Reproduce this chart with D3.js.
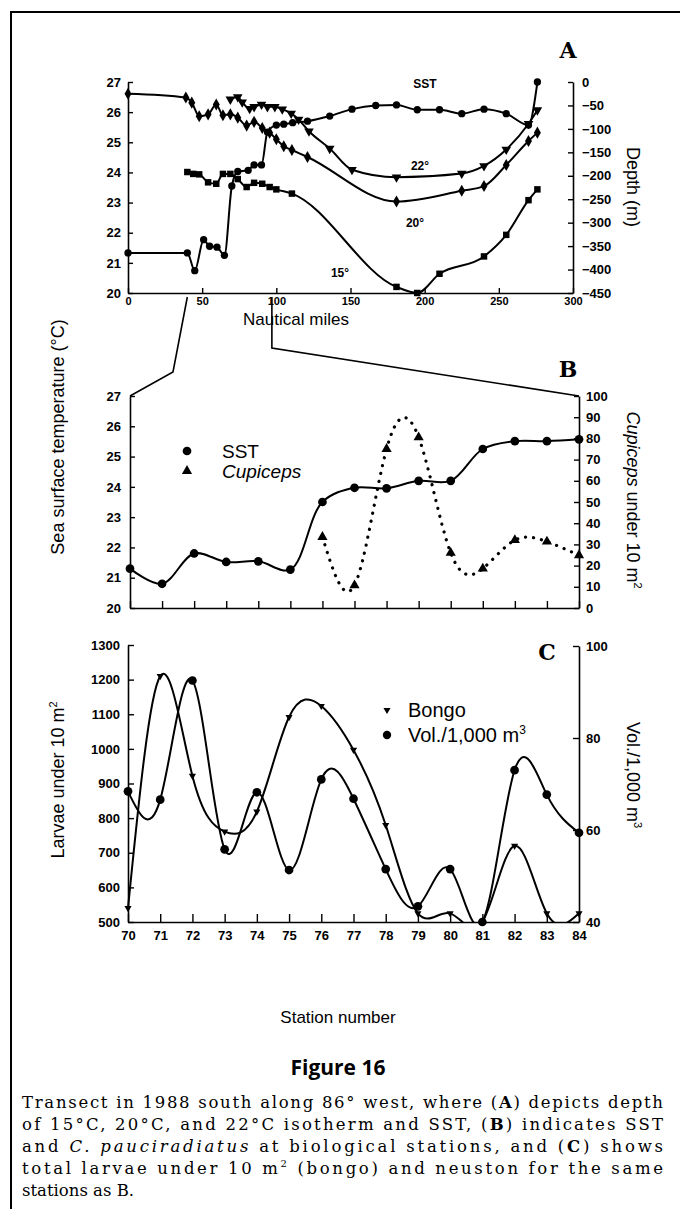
<!DOCTYPE html>
<html>
<head>
<meta charset="utf-8">
<script src="https://cdn.jsdelivr.net/npm/d3@7"></script>
<style>
body { margin: 0; background: #fff; }
</style>
</head>
<body>
<div id="container"></div>
<script>
"use strict";

// ---- panel A: transect, nautical miles ----
var sstNm = [0, 40, 45, 51, 55, 60, 65, 70, 74, 81, 85, 90, 94, 100, 105, 111, 121, 136, 151, 167, 181, 195, 210, 225, 240, 255, 270, 276];
var sstTemp = [21.33, 21.33, 20.74, 21.77, 21.55, 21.52, 21.25, 23.55, 24.03, 24.07, 24.25, 24.25, 25.34, 25.57, 25.6, 25.65, 25.7, 25.87, 26.1, 26.22, 26.24, 26.08, 26.08, 25.95, 26.1, 25.95, 25.57, 27.0];

var iso22Nm = [69, 74, 77, 82, 85, 90, 94, 99, 104, 110, 115, 122, 136, 151, 181, 225, 240, 255, 270, 276];
var iso22Depth = [-37, -32, -43, -57, -53, -48, -53, -53, -58, -67, -80, -105, -142, -187, -203, -195, -179, -144, -89, -60];

var iso20Nm = [0, 39, 43, 48, 54, 59.5, 64, 69, 74, 80, 85, 90.5, 95.5, 100, 105, 110.5, 121, 181, 225, 240, 255, 270, 276];
var iso20Depth = [-25, -33, -44, -73, -69, -48, -71, -69, -76, -93, -85, -98, -108, -122, -137, -145, -160, -255, -232, -222, -177, -126, -108];

var iso15Nm = [40, 44, 48, 54, 59.5, 64, 69, 74, 80, 85, 90.5, 95.5, 100, 110.5, 181, 195, 210, 240, 255, 270, 276];
var iso15Depth = [-192, -196, -197, -214, -217, -196, -196, -207, -224, -215, -217, -224, -229, -238, -437, -450, -409, -372, -326, -252, -229];

var nmTicks = [0, 50, 100, 150, 200, 250, 300];
var tempTicks = [20, 21, 22, 23, 24, 25, 26, 27];
var depthTicks = [0, -50, -100, -150, -200, -250, -300, -350, -400, -450];

// ---- panel B: biological stations ----
var stations = [70, 71, 72, 73, 74, 75, 76, 77, 78, 79, 80, 81, 82, 83, 84];
var sstB = [21.3, 20.8, 21.8, 21.52, 21.54, 21.27, 23.5, 23.97, 23.95, 24.2, 24.2, 25.25, 25.51, 25.51, 25.57];
var cupStations = [76, 77, 78, 79, 80, 81, 82, 83, 84];
var cupiceps = [33.5, 10.7, 75, 80.5, 26, 18.6, 32, 31.3, 24.9];
var cupTicks = [0, 10, 20, 30, 40, 50, 60, 70, 80, 90, 100];

// ---- panel C: larvae and volume ----
var bongo = [540, 1210, 922, 761, 819, 1092, 1124, 997, 780, 525, 525, 500, 720, 525, 525];
var vol = [68.4, 66.6, 92.5, 55.8, 68.2, 51.3, 71, 66.8, 51.5, 43.4, 51.5, 40, 73, 67.7, 59.4];
var larvaeTicks = [500, 600, 700, 800, 900, 1000, 1100, 1200, 1300];
var volTicks = [40, 60, 80, 100];

var width = 680, height = 1209;
var sans = "'Liberation Sans', Arial, sans-serif",
    serif = "'DejaVu Serif', serif";
var fmt = d3.format("d");

var svg = d3.select("#container").append("svg")
    .attr("width", width)
    .attr("height", height)
    .attr("font-family", sans)
    .style("background-color", "#fff");

// page frame
svg.append("path")
    .attr("d", "M11,1209V12H680")
    .attr("fill", "none")
    .attr("stroke", "#000")
    .attr("stroke-width", 2);

function styleAxis(g, size) {
    g.attr("font-family", sans)
        .attr("font-weight", "bold")
        .attr("font-size", size || 13);
    g.select(".domain").attr("stroke-width", 1.6);
    g.selectAll(".tick line").attr("stroke-width", 1.4);
}

function drawLine(g, xs, ys, x, y, curve, dotted) {
    var pts = xs.map(function(d, i) { return [x(d), y(ys[i])]; });
    var line = d3.line().curve(curve);
    var p = g.append("path")
        .attr("d", line(pts))
        .attr("fill", "none")
        .attr("stroke", "#000");
    if (dotted) {
        p.attr("stroke-width", 3.2)
            .attr("stroke-linecap", "round")
            .attr("stroke-dasharray", "0.1 8");
    } else {
        p.attr("stroke-width", 2);
    }
}

function drawMarks(g, xs, ys, x, y, type, size, rotate) {
    g.selectAll(null)
        .data(xs)
        .enter().append("path")
            .attr("d", d3.symbol().type(type).size(size))
            .attr("transform", function(d, i) {
                return "translate(" + x(d) + "," + y(ys[i]) + ")" + (rotate ? " rotate(180)" : "");
            })
            .attr("fill", "#000");
}

// ================= Panel A =================
var xA = d3.scaleLinear().domain([0, 300]).range([128, 573]),
    yA = d3.scaleLinear().domain([20, 27]).range([293, 82]),
    dA = d3.scaleLinear().domain([-450, 0]).range([293, 82]);

var gA = svg.append("g");

gA.append("g")
    .attr("transform", "translate(0,293)")
    .call(d3.axisBottom(xA).tickValues(nmTicks).tickFormat(fmt).tickSizeInner(-5).tickSizeOuter(0).tickPadding(4))
    .call(function(g) { styleAxis(g, 11); });

gA.append("g")
    .attr("transform", "translate(128,0)")
    .call(d3.axisLeft(yA).tickValues(tempTicks).tickFormat(fmt).tickSizeInner(-5).tickSizeOuter(0).tickPadding(7))
    .call(function(g) { styleAxis(g, 13); });

gA.append("g")
    .attr("transform", "translate(573,0)")
    .call(d3.axisRight(dA).tickValues(depthTicks).tickFormat(fmt).tickSizeInner(-5).tickSizeOuter(0).tickPadding(9))
    .call(function(g) { styleAxis(g, 13); });

drawLine(gA, iso15Nm, iso15Depth, xA, dA, d3.curveMonotoneX);
drawLine(gA, iso20Nm, iso20Depth, xA, dA, d3.curveMonotoneX);
drawLine(gA, iso22Nm, iso22Depth, xA, dA, d3.curveMonotoneX);
drawLine(gA, sstNm, sstTemp, xA, yA, d3.curveMonotoneX);

drawMarks(gA, iso15Nm, iso15Depth, xA, dA, d3.symbolSquare, 42);
drawMarks(gA, iso20Nm, iso20Depth, xA, dA, d3.symbolDiamond, 42);
drawMarks(gA, iso22Nm, iso22Depth, xA, dA, d3.symbolTriangle, 40, true);
drawMarks(gA, sstNm, sstTemp, xA, yA, d3.symbolCircle, 42);

gA.append("text").attr("x", 425).attr("y", 88).attr("text-anchor", "middle")
    .attr("font-weight", "bold").attr("font-size", 12).text("SST");
gA.append("text").attr("x", 420).attr("y", 170).attr("text-anchor", "middle")
    .attr("font-weight", "bold").attr("font-size", 12).text("22°");
gA.append("text").attr("x", 415).attr("y", 227).attr("text-anchor", "middle")
    .attr("font-weight", "bold").attr("font-size", 12).text("20°");
gA.append("text").attr("x", 340).attr("y", 277).attr("text-anchor", "middle")
    .attr("font-weight", "bold").attr("font-size", 12).text("15°");

gA.append("text").attr("x", 296).attr("y", 325).attr("text-anchor", "middle")
    .attr("font-size", 17).text("Nautical miles");

gA.append("text").attr("transform", "translate(627,187) rotate(90)")
    .attr("text-anchor", "middle").attr("font-size", 18).text("Depth (m)");

svg.append("text").attr("transform", "translate(64,437) rotate(-90)")
    .attr("text-anchor", "middle").attr("font-size", 18).text("Sea surface temperature (°C)");

svg.append("text").attr("x", 568).attr("y", 58).attr("text-anchor", "middle")
    .attr("font-family", serif).attr("font-weight", "bold")
    .attr("font-size", 22).text("A");

// ================= Panel B =================
var xB = d3.scaleLinear().domain([70, 84]).range([130, 579]),
    yB = d3.scaleLinear().domain([20, 27]).range([608, 396]),
    cB = d3.scaleLinear().domain([0, 100]).range([608, 396]);

// zoom connectors from panel A's axis
svg.append("path")
    .attr("d", "M" + xA(40) + ",297L173,372L" + xB(70) + "," + yB(27))
    .attr("fill", "none").attr("stroke", "#000").attr("stroke-width", 1.6);
svg.append("path")
    .attr("d", "M" + xA(97) + ",297L" + xA(97) + ",348L" + xB(84) + "," + yB(27))
    .attr("fill", "none").attr("stroke", "#000").attr("stroke-width", 1.6);

var gB = svg.append("g");

gB.append("g")
    .attr("transform", "translate(0,608)")
    .call(d3.axisBottom(xB).tickValues(stations).tickFormat("").tickSizeInner(-7).tickSizeOuter(0))
    .call(function(g) { styleAxis(g, 12); });

gB.append("g")
    .attr("transform", "translate(130,0)")
    .call(d3.axisLeft(yB).tickValues(tempTicks).tickFormat(fmt).tickSizeInner(-5).tickSizeOuter(0).tickPadding(9))
    .call(function(g) { styleAxis(g, 13); });

gB.append("g")
    .attr("transform", "translate(579,0)")
    .call(d3.axisRight(cB).tickValues(cupTicks).tickFormat(fmt).tickSizeInner(-5).tickSizeOuter(0).tickPadding(7))
    .call(function(g) { styleAxis(g, 13); });

drawLine(gB, cupStations, cupiceps, xB, cB, d3.curveNatural, true);
drawLine(gB, stations, sstB, xB, yB, d3.curveCatmullRom);
drawMarks(gB, stations, sstB, xB, yB, d3.symbolCircle, 60);
drawMarks(gB, cupStations, cupiceps, xB, cB, d3.symbolTriangle, 45);

// legend B
gB.append("path").attr("d", d3.symbol().type(d3.symbolCircle).size(60)())
    .attr("transform", "translate(187,451)");
gB.append("text").attr("x", 222).attr("y", 458).attr("font-size", 19).text("SST");
gB.append("path").attr("d", d3.symbol().type(d3.symbolTriangle).size(45)())
    .attr("transform", "translate(187,471)");
gB.append("text").attr("x", 222).attr("y", 478).attr("font-size", 19)
    .attr("font-style", "italic").text("Cupiceps");

gB.append("text").attr("transform", "translate(627,500) rotate(90)")
    .attr("text-anchor", "middle").attr("font-size", 18)
    .call(function(t) {
        t.append("tspan").attr("font-style", "italic").text("Cupiceps");
        t.append("tspan").text(" under 10 m");
        t.append("tspan").attr("font-size", 11).attr("dy", -7).text("2");
    });

svg.append("text").attr("x", 568).attr("y", 377).attr("text-anchor", "middle")
    .attr("font-family", serif).attr("font-weight", "bold")
    .attr("font-size", 22).text("B");

// ================= Panel C =================
var xC = d3.scaleLinear().domain([70, 84]).range([128, 579]),
    yL = d3.scaleLinear().domain([500, 1300]).range([922, 645]),
    yR = d3.scaleLinear().domain([40, 100]).range([922, 646]);

var gC = svg.append("g");

svg.append("clipPath").attr("id", "clipC")
    .append("rect").attr("x", 120).attr("y", 630).attr("width", 470).attr("height", 293);

gC.append("g")
    .attr("transform", "translate(0,922)")
    .call(d3.axisBottom(xC).tickValues(stations).tickFormat(fmt).tickSizeInner(-8).tickSizeOuter(0).tickPadding(9))
    .call(function(g) { styleAxis(g, 13); });

gC.append("g")
    .attr("transform", "translate(128,0)")
    .call(d3.axisLeft(yL).tickValues(larvaeTicks).tickFormat(fmt).tickSizeInner(-6).tickSizeOuter(0).tickPadding(8))
    .call(function(g) { styleAxis(g, 13); });

gC.append("g")
    .attr("transform", "translate(579,0)")
    .call(d3.axisRight(yR).tickValues(volTicks).tickFormat(fmt).tickSizeInner(-6).tickSizeOuter(0).tickPadding(7))
    .call(function(g) { styleAxis(g, 13); });

var gCL = gC.append("g").attr("clip-path", "url(#clipC)");
drawLine(gCL, stations, bongo, xC, yL, d3.curveNatural);
drawLine(gCL, stations, vol, xC, yR, d3.curveNatural);
drawMarks(gC, stations, bongo, xC, yL, d3.symbolTriangle, 22, true);
drawMarks(gC, stations, vol, xC, yR, d3.symbolCircle, 60);

// legend C
gC.append("path").attr("d", d3.symbol().type(d3.symbolTriangle).size(22)())
    .attr("transform", "translate(387,710) rotate(180)");
gC.append("text").attr("x", 408).attr("y", 717).attr("font-size", 20).text("Bongo");
gC.append("path").attr("d", d3.symbol().type(d3.symbolCircle).size(55)())
    .attr("transform", "translate(387,735)");
gC.append("text").attr("x", 408).attr("y", 742).attr("font-size", 20)
    .call(function(t) {
        t.append("tspan").text("Vol./1,000 m");
        t.append("tspan").attr("font-size", 12).attr("dy", -8).text("3");
    });

svg.append("text").attr("x", 547).attr("y", 660).attr("text-anchor", "middle")
    .attr("font-family", serif).attr("font-weight", "bold")
    .attr("font-size", 22).text("C");

svg.append("text").attr("transform", "translate(64,780) rotate(-90)")
    .attr("text-anchor", "middle").attr("font-size", 18)
    .call(function(t) {
        t.append("tspan").text("Larvae under 10 m");
        t.append("tspan").attr("font-size", 11).attr("dy", -7).text("2");
    });

svg.append("text").attr("transform", "translate(627,775) rotate(90)")
    .attr("text-anchor", "middle").attr("font-size", 18)
    .call(function(t) {
        t.append("tspan").text("Vol./1,000 m");
        t.append("tspan").attr("font-size", 11).attr("dy", -7).text("3");
    });

svg.append("text").attr("x", 338).attr("y", 1023).attr("text-anchor", "middle")
    .attr("font-size", 17).text("Station number");

// ================= caption =================
svg.append("text").attr("x", 338).attr("y", 1075).attr("text-anchor", "middle")
    .attr("font-family", "'Open Sans', sans-serif").attr("font-weight", "bold")
    .attr("font-size", 21).text("Figure 16");

var capLines = [
    [["Transect in 1988 south along 86° west, where (", ""], ["A", "b"], [") depicts depth", ""]],
    [["of 15°C, 20°C, and 22°C isotherm and SST, (", ""], ["B", "b"], [") indicates SST", ""]],
    [["and ", ""], ["C. pauciradiatus", "i"], [" at biological stations, and (", ""], ["C", "b"], [") shows", ""]],
    [["total larvae under 10 m", ""], ["2", "s"], [" (bongo) and neuston for the same", ""]],
    [["stations as B.", ""]]
];

capLines.forEach(function(parts, i) {
    var t = svg.append("text")
        .attr("x", 22)
        .attr("y", 1108 + i * 22)
        .attr("font-family", serif)
        .attr("font-size", 16.5);
    if (i < capLines.length - 1) {
        t.attr("textLength", 641).attr("lengthAdjust", "spacing");
    }
    parts.forEach(function(p, j) {
        var s = t.append("tspan").text(p[0]);
        if (p[1] === "b") s.attr("font-weight", "bold");
        if (p[1] === "i") s.attr("font-style", "italic");
        if (p[1] === "s") s.attr("font-size", 10).attr("dy", -7);
        if (j > 0 && parts[j - 1][1] === "s") s.attr("dy", 7);
    });
});
</script>
</body>
</html>
